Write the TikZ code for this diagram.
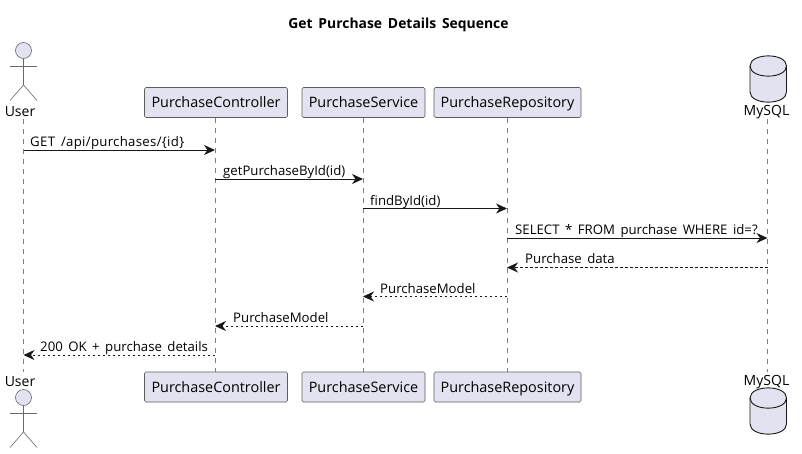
\documentclass[tikz,border=0pt]{standalone}
\usepackage{fontspec}
\setmainfont{Open Sans}[WordSpace=1.6]
\usetikzlibrary{arrows.meta}

\definecolor{partfill}{HTML}{E2E2F0}
\definecolor{partline}{HTML}{181818}
\definecolor{lifeline}{HTML}{7F7F7F}

\tikzset{
    partbox/.style={fill=partfill,draw=partline!70,rounded corners=1.5pt,line width=0.6pt,
        minimum height=30pt,inner sep=0pt,text height=11pt,text depth=1pt,font=\fontsize{14.4}{16}\selectfont},
    actorname/.style={font=\fontsize{14}{16}\selectfont,inner sep=0pt},
    msglabel/.style={anchor=base west,inner sep=0pt,font=\fontsize{13.2}{15}\selectfont},
    msgline/.style={draw=partline,line width=0.9pt},
    stickman/.style={draw=partline!65,line width=0.6pt},
    dbbody/.style={fill=partfill,draw=partline,line width=0.9pt}
}

\begin{document}
\begin{tikzpicture}[x=1pt,y=-1pt]
        \useasboundingbox (0,0) rectangle (802,453);

        \node (title) [font=\bfseries\fontsize{13.9}{16}\selectfont,inner sep=0pt] at (398.5,25) {Get Purchase Details Sequence};

        % top row
        \begin{scope}[every node/.append style={partbox}]
            \node (B) [minimum width=143pt] at (216,102.5) {PurchaseController};
            \node (C) [minimum width=123pt] at (363.5,102.5) {PurchaseService};
            \node (D) [minimum width=147pt] at (507.5,102.5) {PurchaseRepository};
        \end{scope}
        \node (A) [actorname] at (20,112) {User};
        \node (E) [actorname] at (766.5,112) {MySQL};

        % bottom row
        \begin{scope}[every node/.append style={partbox}]
            \node (B') [minimum width=143pt] at (216,387) {PurchaseController};
            \node (C') [minimum width=123pt] at (363.5,387) {PurchaseService};
            \node (D') [minimum width=147pt] at (507.5,387) {PurchaseRepository};
        \end{scope}
        \node (A') [actorname] at (20,382) {User};
        \node (E') [actorname] at (766.5,382) {MySQL};

        % actors
        \node (head) [circle,fill=partfill,stickman,minimum size=16pt,inner sep=0pt] at (23.5,50.5) {};
        \draw [stickman] (head.south) -- (23.5,85) -- (10,100.5);
        \draw [stickman] (23.5,85) -- (37,100.5);
        \draw [stickman] (10,66) -- (37,66);
        \node (head') [circle,fill=partfill,stickman,minimum size=16pt,inner sep=0pt] at (23.5,397.5) {};
        \draw [stickman] (head'.south) -- (23.5,432) -- (10,447.5);
        \draw [stickman] (23.5,432) -- (37,447.5);
        \draw [stickman] (10,413) -- (37,413);

        % database
        \draw [dbbody] (750,66) -- (750,92) .. controls (750,105.5) and (786.5,105.5) .. (786.5,92) -- (786.5,66)
            .. controls (786.5,52.5) and (750,52.5) .. (750,66) -- cycle;
        \draw [dbbody,fill=none] (750,66) .. controls (750,79.5) and (786.5,79.5) .. (786.5,66);
        \draw [dbbody] (750,398) -- (750,424) .. controls (750,437.5) and (786.5,437.5) .. (786.5,424) -- (786.5,398)
            .. controls (786.5,384.5) and (750,384.5) .. (750,398) -- cycle;
        \draw [dbbody,fill=none] (750,398) .. controls (750,411.5) and (786.5,411.5) .. (786.5,398);

        % lifelines
        \coordinate (Atop) at (23.5,119);
        \coordinate (Abot) at (23.5,372);
        \coordinate (Etop) at (767.5,119);
        \coordinate (Ebot) at (767.5,372);
        \coordinate (Btop) at (215,117.5);
        \coordinate (Bbot) at (215,372);
        \coordinate (Ctop) at (363,117.5);
        \coordinate (Cbot) at (363,372);
        \coordinate (Dtop) at (507,117.5);
        \coordinate (Dbot) at (507,372);
        \begin{scope}[every path/.style={draw=lifeline,line width=0.6pt,dash pattern=on 5pt off 5pt}]
            \path (Atop) -- (Abot);
            \path (Btop) -- (Bbot);
            \path (Ctop) -- (Cbot);
            \path (Dtop) -- (Dbot);
            \path (Etop) -- (Ebot);
        \end{scope}

        % message rows
        \coordinate (m1) at (0,150);
        \coordinate (m2) at (0,179);
        \coordinate (m3) at (0,208.5);
        \coordinate (m4) at (0,238);
        \coordinate (m5) at (0,267.5);
        \coordinate (m6) at (0,296.5);
        \coordinate (m7) at (0,326);
        \coordinate (m8) at (0,355);

        \begin{scope}[>={Stealth[length=11pt,width=10pt,inset=3.5pt]},
                      every edge/.style={msgline,draw}]
            \path [->] (Atop |- m1) edge (Btop |- m1);
            \path [->] (Btop |- m2) edge (Ctop |- m2);
            \path [->] (Ctop |- m3) edge (Dtop |- m3);
            \path [->] (Dtop |- m4) edge (Etop |- m4);
            \path [->] (Etop |- m5) edge [dash pattern=on 2.5pt off 2.5pt] (Dtop |- m5);
            \path [->] (Dtop |- m6) edge [dash pattern=on 2.5pt off 2.5pt] (Ctop |- m6);
            \path [->] (Ctop |- m7) edge [dash pattern=on 2.5pt off 2.5pt] (Btop |- m7);
            \path [->] (Btop |- m8) edge [dash pattern=on 2.5pt off 2.5pt] (Atop |- m8);
        \end{scope}

        \begin{scope}[every node/.append style={msglabel}]
            \node (l1) at (30,146.5) {\addfontfeature{LetterSpace=2.3}GET /api/purchases/\{id\}};
            \node (l2) at (223,175.5) {getPurchaseById(id)};
            \node (l3) at (370,205) {findById(id)};
            \node (l4) at (515,234.5) {SELECT * FROM purchase WHERE id=?};
            \node (l5) at (525,263.5) {Purchase data};
            \node (l6) at (380,293) {PurchaseModel};
            \node (l7) at (233,322) {PurchaseModel};
            \node (l8) at (40,351.5) {200 OK + purchase details};
        \end{scope}
    \end{tikzpicture}
\end{document}
